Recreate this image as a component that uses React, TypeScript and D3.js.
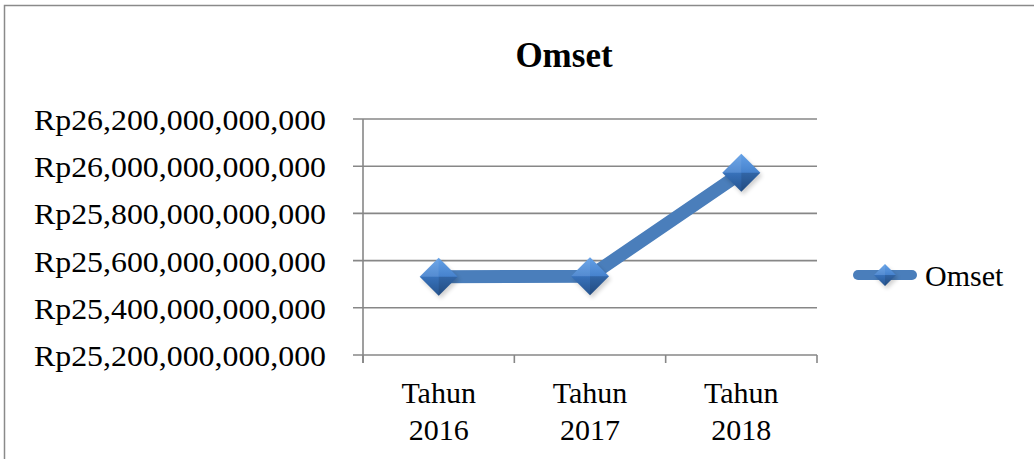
import React from "react";
import * as d3 from "d3";

const categories: string[][] = [["Tahun", "2016"], ["Tahun", "2017"], ["Tahun", "2018"]];
const omsetValues: number[] = [25532e9, 25534e9, 25972e9];
const yTicks: number[] = [25.2e12, 25.4e12, 25.6e12, 25.8e12, 26.0e12, 26.2e12];
const seriesName = "Omset";
const chartTitle = "Omset";

const W = 1034;
const H = 459;
const plot = { left: 363, right: 817, top: 119, bottom: 355 };
const FONT = '"Liberation Serif", "Times New Roman", Times, serif';

const fmt = (v: number) => "Rp" + d3.format(",.0f")(v);

function Diamond({ cx, cy, r, id }: { cx: number; cy: number; r: number; id: string }) {
  const t = `${cx},${cy - r}`;
  const rr = `${cx + r},${cy}`;
  const b = `${cx},${cy + r}`;
  const l = `${cx - r},${cy}`;
  const c = `${cx},${cy}`;
  return (
    <g>
      <polygon points={`${cx + 2},${cy - r + 3} ${cx + r + 2},${cy + 3} ${cx + 2},${cy + r + 3} ${cx - r + 2},${cy + 3}`} fill="#000" opacity={0.18} filter={`url(#blur)`} />
      <polygon points={`${t} ${rr} ${b} ${l}`} fill={`url(#${id})`} />
      <polygon points={`${t} ${c} ${l}`} fill="#ffffff" opacity={0.12} />
      <polygon points={`${t} ${c} ${rr}`} fill="#ffffff" opacity={0.05} />
      <polygon points={`${b} ${c} ${rr}`} fill="#000000" opacity={0.18} />
      <polygon points={`${b} ${c} ${l}`} fill="#000000" opacity={0.08} />
    </g>
  );
}

export default function App() {
  const x = d3
    .scaleBand<string>()
    .domain(categories.map((c) => c.join(" ")))
    .range([plot.left, plot.right])
    .padding(0);
  const y = d3.scaleLinear().domain([25.2e12, 26.2e12]).range([plot.bottom, plot.top]);

  const pts: [number, number][] = omsetValues.map((v, i) => [
    (x(categories[i].join(" ")) as number) + x.bandwidth() / 2,
    y(v),
  ]);
  const line = d3.line()(pts) as string;

  const catEdges = [...categories.map((c) => x(c.join(" ")) as number), plot.right];
  const txt = { fontFamily: FONT };

  return (
    <svg
      width={W}
      height={H}
      style={{ position: "absolute", left: 0, top: 0, background: "#fff", fontFamily: FONT }}
    >
      <defs>
        <linearGradient id="mk" x1="0" y1="0" x2="0" y2="1">
          <stop offset="0%" stopColor="#5c9ce6" />
          <stop offset="50%" stopColor="#3d7ccb" />
          <stop offset="100%" stopColor="#2a5c9c" />
        </linearGradient>
        <filter id="blur" x="-50%" y="-50%" width="200%" height="200%">
          <feGaussianBlur stdDeviation="2" />
        </filter>
      </defs>
      <rect x={0} y={0} width={W} height={H} fill="#fff" />
      <path d={`M4.5,${H} V5.5 H${W}`} fill="none" stroke="#8a8a8a" strokeWidth={1.5} />

      <text x={564} y={67} textAnchor="middle" fontSize={35} fontWeight="bold" fill="#000" style={txt}>
        {chartTitle}
      </text>

      {yTicks.map((t) => (
        <g key={t}>
          <line x1={353} x2={plot.right} y1={y(t)} y2={y(t)} stroke="#878787" strokeWidth={1.6} />
          <text
            x={326}
            y={y(t) + 11}
            textAnchor="end"
            fontSize={30}
            fill="#000"
            style={txt}
            textLength={292}
            lengthAdjust="spacingAndGlyphs"
          >
            {fmt(t)}
          </text>
        </g>
      ))}
      <line x1={plot.left} x2={plot.left} y1={plot.top} y2={plot.bottom + 8} stroke="#878787" strokeWidth={1.6} />
      {catEdges.map((e, i) => (
        <line key={i} x1={e} x2={e} y1={plot.bottom} y2={plot.bottom + 8} stroke="#878787" strokeWidth={1.6} />
      ))}
      {categories.map((c, i) => {
        const cx = (x(c.join(" ")) as number) + x.bandwidth() / 2;
        return (
          <text key={i} x={cx} textAnchor="middle" fontSize={30} fill="#000" style={txt}>
            <tspan x={cx} y={403}>{c[0]}</tspan>
            <tspan x={cx} y={440}>{c[1]}</tspan>
          </text>
        );
      })}

      <path d={line} fill="none" stroke="#4a7ebb" strokeWidth={13} strokeLinejoin="round" />
      {pts.map((p, i) => (
        <Diamond key={i} cx={p[0]} cy={p[1]} r={19} id="mk" />
      ))}

      <line x1={858} x2={912} y1={275} y2={275} stroke="#4a7ebb" strokeWidth={10} strokeLinecap="round" />
      <Diamond cx={885} cy={275} r={11} id="mk" />
      <text x={925} y={286} fontSize={30} fill="#000" style={txt}>
        {seriesName}
      </text>
    </svg>
  );
}
